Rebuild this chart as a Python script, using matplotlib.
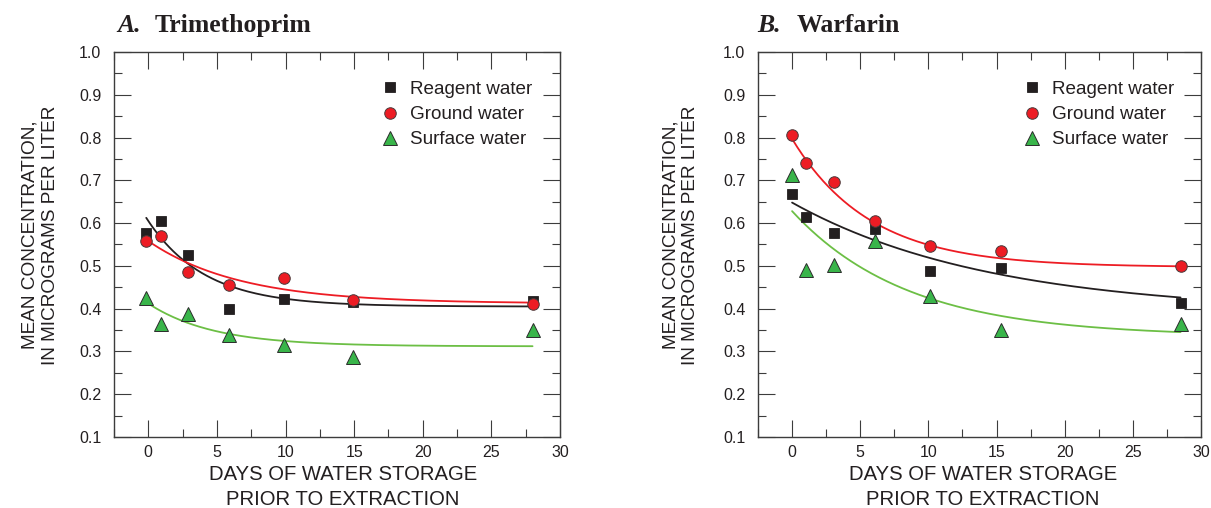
import numpy as np
import matplotlib
matplotlib.use("Agg")
import matplotlib.pyplot as plt
from matplotlib.ticker import MultipleLocator, FormatStrFormatter

# ---------------------------------------------------------------- data
series_names = ["Reagent water", "Ground water", "Surface water"]

# A. Trimethoprim
trim_days = [-0.15, 0.9, 2.9, 5.9, 9.9, 14.9, 28.0]
trim_reagent = [0.578, 0.605, 0.525, 0.400, 0.422, 0.416, 0.419]
trim_ground = [0.558, 0.569, 0.486, 0.455, 0.471, 0.420, 0.410]
trim_surface = [0.424, 0.364, 0.387, 0.338, 0.315, 0.286, 0.349]
# exponential decay fits: (plateau, amplitude, rate per day)
trim_fit_reagent = (0.405, 0.200, 0.24)
trim_fit_ground = (0.412, 0.146, 0.15)
trim_fit_surface = (0.312, 0.100, 0.21)

# B. Warfarin
warf_days = [0.0, 1.0, 3.05, 6.1, 10.15, 15.3, 28.5]
warf_reagent = [0.668, 0.615, 0.578, 0.586, 0.489, 0.494, 0.413]
warf_ground = [0.807, 0.740, 0.697, 0.605, 0.547, 0.535, 0.500]
warf_surface = [0.712, 0.490, 0.502, 0.558, 0.430, 0.349, 0.364]
warf_fit_reagent = (0.390, 0.258, 0.069)
warf_fit_ground = (0.497, 0.300, 0.175)
warf_fit_surface = (0.335, 0.293, 0.118)

x_ticks = [0, 5, 10, 15, 20, 25, 30]
y_ticks = [0.1, 0.2, 0.3, 0.4, 0.5, 0.6, 0.7, 0.8, 0.9, 1.0]

# ---------------------------------------------------------------- style
W, H, DPI = 1211, 508, 100
SANS = ["Liberation Sans", "DejaVu Sans"]
SERIF = ["Liberation Serif", "DejaVu Serif"]
TXT = "#231f20"
FRAME = "#3c3c3c"

marker_styles = [
    dict(marker="s", ms=7.8, mfc="#231f20", mec="#231f20", mew=0.6),
    dict(marker="o", ms=8.3, mfc="#ed1c24", mec="#4a3a3a", mew=0.7),
    dict(marker="^", ms=9.6, mfc="#39b54a", mec="#2b2b2b", mew=0.7),
]
line_colors = ["#231f20", "#ed1c24", "#6cbf45"]

plt.rcParams["font.family"] = SANS

fig = plt.figure(figsize=(W / DPI, H / DPI), dpi=DPI)


def px_x(x):
    return x / W


def px_y(y):
    return 1 - y / H


def draw_panel(ax, days, values, fits):
    t = np.linspace(min(days), max(days), 300)
    for fit, color in zip(fits, line_colors):
        plateau, amp, rate = fit
        ax.plot(t, plateau + amp * np.exp(-rate * t), color=color, lw=1.3,
                zorder=2, solid_capstyle="round")
    handles = []
    for vals, style, name in zip(values, marker_styles, series_names):
        h, = ax.plot(days, vals, linestyle="none", zorder=3, label=name,
                     **style)
        handles.append(h)

    ax.set_xlim(-2.5, 30)
    ax.set_ylim(0.1, 1.0)
    ax.set_xticks(x_ticks)
    ax.set_yticks(y_ticks)
    ax.xaxis.set_minor_locator(MultipleLocator(2.5))
    ax.yaxis.set_minor_locator(MultipleLocator(0.05))
    ax.yaxis.set_major_formatter(FormatStrFormatter("%.1f"))
    ax.tick_params(which="both", direction="in", top=True, right=True,
                   color=FRAME, width=0.8, labelsize=11.5, labelcolor=TXT)
    ax.tick_params(which="major", length=12)
    ax.tick_params(which="minor", length=6)
    ax.tick_params(axis="x", which="major", pad=6)
    ax.tick_params(axis="y", which="major", pad=9)
    for s in ax.spines.values():
        s.set_color(FRAME)
        s.set_linewidth(1.0)

    leg = ax.legend(handles=handles, loc="upper left",
                    bbox_to_anchor=(0.598, 0.925), frameon=False,
                    fontsize=13.6, handlelength=1.0, handletextpad=0.55,
                    labelspacing=0.42, borderpad=0, borderaxespad=0)
    for txt in leg.get_texts():
        txt.set_color(TXT)


def decorate(x0, letter, name, name_dx):
    # panel title
    fig.text(px_x(x0 + 1), px_y(31.7), letter, family=SERIF, weight="bold",
             style="italic", fontsize=18.5, color=TXT, va="baseline")
    fig.text(px_x(x0 + 1 + name_dx), px_y(31.7), name, family=SERIF,
             weight="bold", fontsize=18.5, color=TXT, va="baseline")
    # x axis label (two lines)
    cx = x0 + 227
    fig.text(px_x(cx), px_y(480), "DAYS OF WATER STORAGE", fontsize=14.6,
             color=TXT, ha="center", va="baseline")
    fig.text(px_x(cx), px_y(505), "PRIOR TO EXTRACTION", fontsize=14.6,
             color=TXT, ha="center", va="baseline")
    # y axis label (two lines, rotated)
    cy = 235
    fig.text(px_x(x0 - 81), px_y(cy), "MEAN CONCENTRATION,", fontsize=13.7,
             color=TXT, rotation=90, rotation_mode="anchor",
             ha="center", va="baseline")
    fig.text(px_x(x0 - 61), px_y(cy), "IN MICROGRAMS PER LITER",
             fontsize=13.7, color=TXT, rotation=90, rotation_mode="anchor",
             ha="center", va="baseline")


ax_a = fig.add_axes([114 / W, 71 / H, 446 / W, 385 / H])
draw_panel(ax_a, trim_days, [trim_reagent, trim_ground, trim_surface],
           [trim_fit_reagent, trim_fit_ground, trim_fit_surface])
decorate(116, "A.", "Trimethoprim", 38)

ax_b = fig.add_axes([758 / W, 71 / H, 443 / W, 385 / H])
draw_panel(ax_b, warf_days, [warf_reagent, warf_ground, warf_surface],
           [warf_fit_reagent, warf_fit_ground, warf_fit_surface])
decorate(756, "B.", "Warfarin", 40)

fig.savefig("out.png", dpi=DPI)
